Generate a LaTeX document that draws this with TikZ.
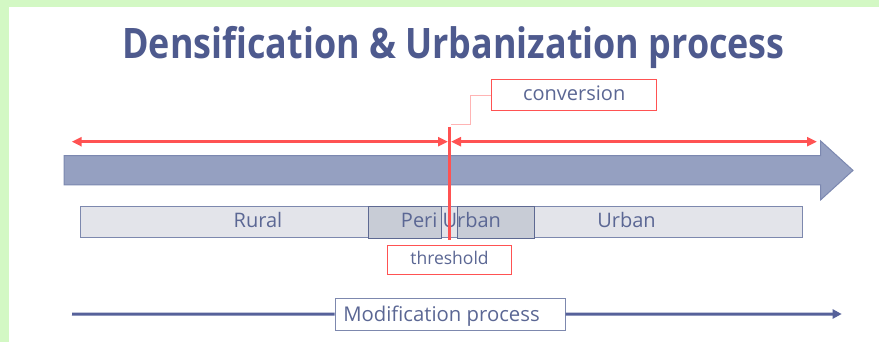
\documentclass[tikz,border=0pt]{standalone}
\usepackage{fontspec}
\setmainfont{Open Sans}
\usetikzlibrary{arrows.meta,positioning}

\definecolor{bggreen}{HTML}{D3F8C4}
\definecolor{titleblue}{HTML}{4E5A8E}
\definecolor{textblue}{HTML}{5B6794}
\definecolor{shaftblue}{HTML}{95A0C1}
\definecolor{shaftedge}{HTML}{7C88B0}
\definecolor{redline}{HTML}{FF5252}
\definecolor{pinkline}{HTML}{FFB4B4}
\definecolor{barfill}{HTML}{E3E4EA}
\definecolor{baredge}{HTML}{7D88AE}
\definecolor{darkfill}{HTML}{C8CCD6}
\definecolor{darkedge}{HTML}{5E6992}
\definecolor{lineblue}{HTML}{56619A}

\begin{document}
\begin{tikzpicture}[x=1pt, y=-1pt,
        txt/.style={text=textblue, inner sep=0pt, font=\fontsize{20}{24}\selectfont},
        redbox/.style={txt, draw=redline, line width=1pt, fill=white, text depth=0pt},
        bar/.style={draw=baredge, fill=barfill, line width=1pt, inner sep=0pt, minimum height=31.7pt},
        darkbar/.style={draw=darkedge, fill=darkfill, line width=1pt, inner sep=0pt, minimum height=32pt},
        redarrow/.style={redline, line width=2.5pt, {Triangle[length=10pt,width=9pt]}-{Triangle[length=10pt,width=9pt]}},
        blueline/.style={lineblue, line width=3pt}]
        \fill[bggreen] (0,0) rectangle (879,342);
        \fill[white] (9,7) rectangle (879,342);
        \useasboundingbox (0,0) rectangle (879,342);

        \node[anchor=base, text=titleblue, inner sep=0pt, font=\bfseries\fontsize{42}{48}\selectfont] (title) at (453.5,58.3) {\scalebox{0.855}[1]{Densification \& Urbanization process}};

        \draw[shaftedge, fill=shaftblue, line width=1pt] (64,155.7) -- (820.7,155.7) -- (820.7,141) -- (853,170.4) -- (820.7,199.8) -- (820.7,185) -- (64,185) -- cycle;

        \node[bar, minimum width=722.3pt] (rural) at (441.2,221.9) {};
        \node[darkbar, minimum width=73.4pt] (peri) at (405,222.1) {};
        \node[darkbar, minimum width=77pt] (urban) at (495.8,222.1) {};
        \node[txt, anchor=base] (rural text) at (258,227.3) {Rural};
        \node[txt, anchor=base] (peri text) at (451,228) {Peri Urban};
        \node[txt, anchor=base] (urban text) at (626.5,227.3) {Urban};

        \coordinate (left end) at (71.7,141.7);
        \coordinate (cut left) at (448,141.7);
        \coordinate (cut right) at (451,141.7);
        \coordinate (right end) at (817,141.7);
        \draw[redarrow] (left end) -- (cut left);
        \draw[redarrow] (cut right) -- (right end);

        \node[redbox, minimum width=165pt, minimum height=31.3pt, text height=11.3pt] (conv) at (574.2,95.35) {conversion};
        \node[redbox, minimum width=124.4pt, minimum height=29pt, text height=9.6pt, font=\fontsize{17.5}{21}\selectfont] (thres) at (449.5,259.5) {threshold};

        \coordinate (cut top) at (449.5,126.7);
        \coordinate (cut bottom) at (449.5,240);
        \coordinate (conv foot) at (451,124.3);
        \coordinate (knee) at (470.7,124.3);
        \draw[pinkline, line width=1pt] (conv foot) -- (knee) |- (conv.west);
        \draw[redline, line width=3pt] (cut top) -- (cut bottom);

        \node[txt, draw=baredge, line width=1pt, fill=white, minimum width=230pt, minimum height=31.7pt, text height=13.6pt, text depth=0pt] (modif) at (450,314.2) {\fontsize{20.3}{24}\selectfont Modification process\hspace*{17pt}};
        \coordinate (modif start) at (72,314);
        \coordinate (modif end) at (841.7,314);
        \draw[blueline] (modif start) -- (modif);
        \draw[blueline, -{Triangle[length=9pt,width=9pt]}] (modif) -- (modif end);
    \end{tikzpicture}
\end{document}
